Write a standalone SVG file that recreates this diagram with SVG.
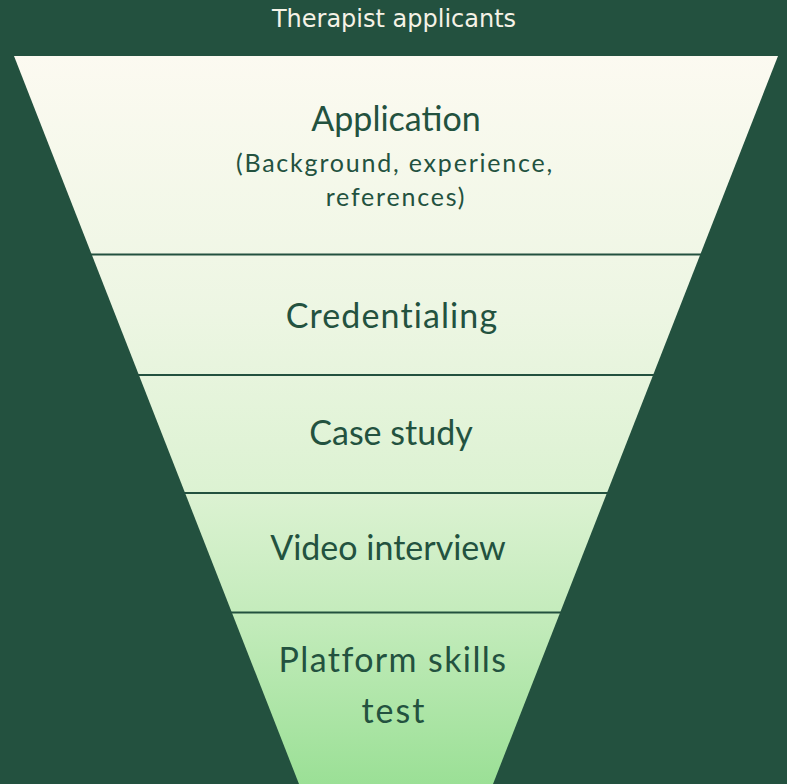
<svg xmlns="http://www.w3.org/2000/svg" width="787" height="784" viewBox="0 0 787 784">
<defs>
<linearGradient id="fg" x1="0" y1="56" x2="0" y2="784" gradientUnits="userSpaceOnUse">
<stop offset="0" stop-color="#FCFAF1"/>
<stop offset="0.35" stop-color="#EDF6E3"/>
<stop offset="0.6" stop-color="#DCF2D2"/>
<stop offset="0.78" stop-color="#C2EBBA"/>
<stop offset="1" stop-color="#9BE096"/>
</linearGradient>
<style>
.lbl{font-family:Lato,"Open Sans",sans-serif;fill:#23523F;text-anchor:middle}
.big{font-size:34px}
.sub{font-size:25px;letter-spacing:1.8px}
.div{stroke:#23513F;stroke-width:2}
</style>
</defs>
<rect width="787" height="784" fill="#23513F"/>
<text x="394" y="27" font-family="DejaVu Sans,Verdana,sans-serif" font-size="24" fill="#F5F2E6" text-anchor="middle">Therapist applicants</text>
<polygon points="14,56 778,56 493,784 299,784" fill="url(#fg)"/>
<g id="connectors">
<line class="div" x1="91" y1="254.5" x2="701" y2="254.5"/>
<line class="div" x1="138" y1="375" x2="654" y2="375"/>
<line class="div" x1="184" y1="493" x2="608" y2="493"/>
<line class="div" x1="231" y1="612.5" x2="561" y2="612.5"/>
</g>
<g id="application">
<text class="lbl big" x="396" y="131">Application</text>
<text class="lbl sub" x="395" y="172">(Background, experience,</text>
<text class="lbl sub" x="396" y="206">references)</text>
</g>
<g id="credentialing"><text class="lbl big" x="392" y="328" letter-spacing="1.1">Credentialing</text></g>
<g id="case-study"><text class="lbl big" x="391" y="445">Case study</text></g>
<g id="video-interview"><text class="lbl big" x="388" y="560">Video interview</text></g>
<g id="platform-skills-test">
<text class="lbl big" x="393" y="672" letter-spacing="1.4">Platform skills</text>
<text class="lbl big" x="394" y="723" letter-spacing="2">test</text>
</g>
</svg>
